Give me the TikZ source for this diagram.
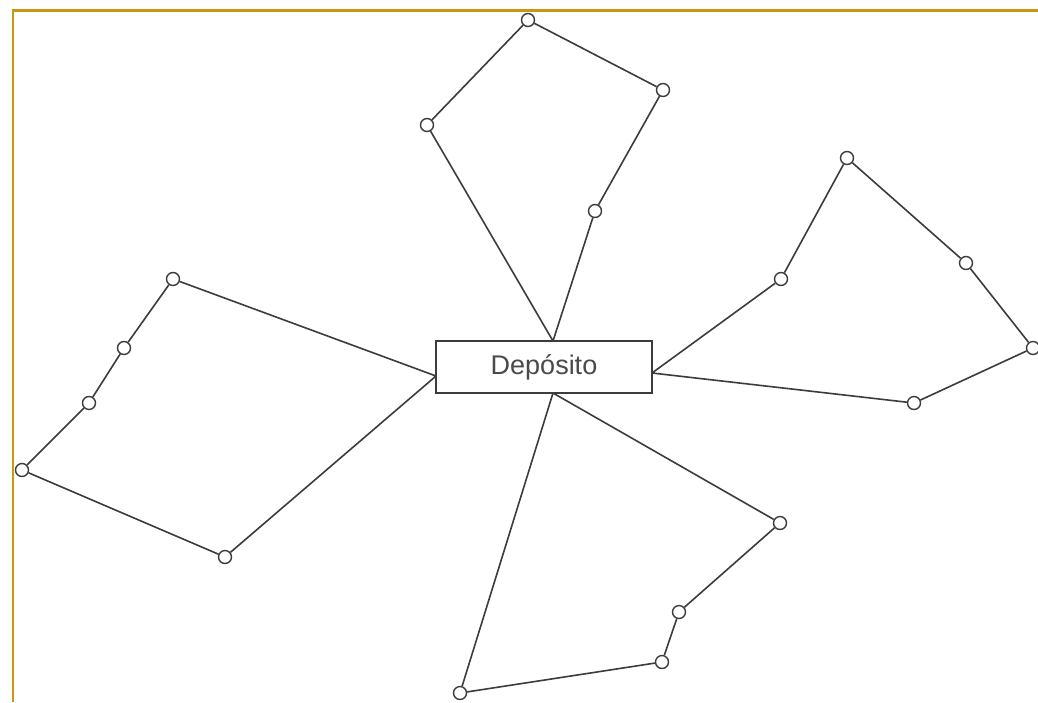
\documentclass[tikz,border=0pt]{standalone}
\usepackage{fontspec}
\setmainfont{Liberation Sans}
\definecolor{frame}{HTML}{C8980E}
\definecolor{edge}{HTML}{3C3C3C}
\definecolor{txt}{HTML}{4A4A4A}
\begin{document}
\begin{tikzpicture}[x=1pt,y=-1pt,
  stop/.style={circle,draw=edge,fill=white,line width=1.4pt,minimum size=13pt,inner sep=0pt},
  depot/.style={rectangle,draw=edge,fill=white,line width=2pt,minimum width=216pt,minimum height=52pt,inner sep=0pt,font=\fontsize{27}{30}\selectfont,text=txt},
  route/.style={draw=edge,line width=1.6pt}]
\useasboundingbox (0,0) rectangle (1038,702);
\fill[white] (0,0) rectangle (1038,702);
\draw[frame,line width=2.2pt] (13,702) -- (13,10.5) -- (1038,10.5);
% depot
\node[depot] (dep) at (544,367) {Depósito};
\coordinate (dt) at (553,341);
\coordinate (db) at (553,393);
\coordinate (dl) at (436,376);
\coordinate (dr) at (652,373);
% top route
\node[stop] (a1) at (427,125) {};
\node[stop] (a2) at (528,20) {};
\node[stop] (a3) at (663,90) {};
\node[stop] (a4) at (595,211) {};
% right route
\node[stop] (b1) at (781,279) {};
\node[stop] (b2) at (847,158) {};
\node[stop] (b3) at (966,263) {};
\node[stop] (b4) at (1033,348) {};
\node[stop] (b5) at (914,403) {};
% left route
\node[stop] (c1) at (173,279) {};
\node[stop] (c2) at (124,348) {};
\node[stop] (c3) at (89,403) {};
\node[stop] (c4) at (22,470) {};
\node[stop] (c5) at (225,557) {};
% bottom route
\node[stop] (d1) at (780,523) {};
\node[stop] (d2) at (679,612) {};
\node[stop] (d3) at (662,662) {};
\node[stop] (d4) at (460,693) {};
% edges
\path[route] (dt) -- (a1) -- (a2) -- (a3) -- (a4) -- (dt);
\path[route] (dr) -- (b1) -- (b2) -- (b3) -- (b4) -- (b5) -- (dr);
\path[route] (dl) -- (c1) -- (c2) -- (c3) -- (c4) -- (c5) -- (dl);
\path[route] (db) -- (d1) -- (d2) -- (d3) -- (d4) -- (db);
\end{tikzpicture}
\end{document}
